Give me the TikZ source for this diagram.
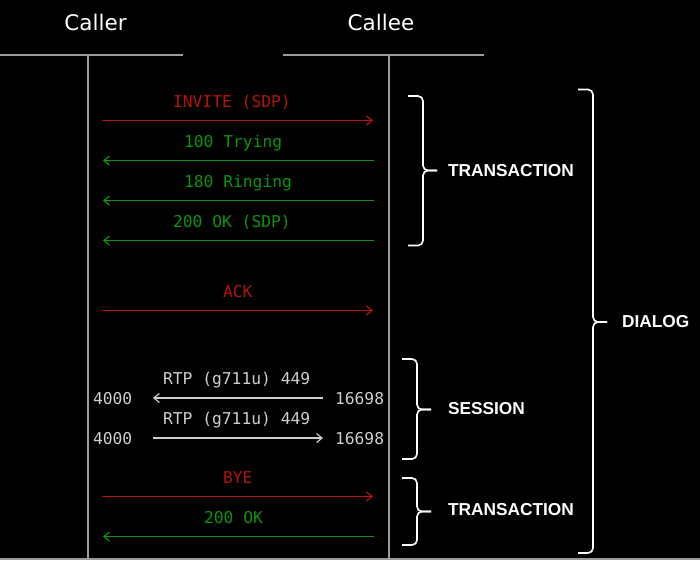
\documentclass[tikz,border=0pt]{standalone}
\usepackage{fontspec}
\setmainfont{DejaVu Sans}
\newfontfamily\monof{DejaVu Sans Mono}
\newfontfamily\boldf{Liberation Sans}
\usetikzlibrary{arrows.meta}
\definecolor{msgred}{RGB}{178,22,8}
\definecolor{msggreen}{RGB}{12,148,12}
\definecolor{lifegray}{RGB}{155,155,155}
\definecolor{rtpgray}{RGB}{205,205,205}
\begin{document}
\begin{tikzpicture}[x=1pt,y=-1pt,
  every node/.style={inner sep=0pt, outer sep=0pt},
  head/.style={font=\fontsize{21.5}{24}\selectfont, text=white, anchor=base},
  mono/.style={font=\monof\fontsize{16.3}{18}\selectfont, anchor=base west},
  req/.style={mono, text=msgred},
  resp/.style={mono, text=msggreen},
  rtp/.style={mono, text=rtpgray},
  grp/.style={font=\boldf\bfseries\fontsize{17.3}{20}\selectfont, text=white, anchor=west},
  life/.style={draw=lifegray, line width=1.3pt},
  tipstyle/.style={-{Straight Barb[length=5.5pt,width=9pt,line width=1.2pt]}},
  reqline/.style={draw=msgred, line width=1.6pt, tipstyle},
  respline/.style={draw=msggreen, line width=1.6pt, tipstyle},
  rtpline/.style={draw=rtpgray, line width=1.2pt, tipstyle},
  bracestyle/.style={draw=white, line width=1.6pt, rounded corners=5pt}
]
\fill[black] (0,0) rectangle (700,560);
\useasboundingbox (0,0) rectangle (700,560);

% headers
\node[head] (caller) at (95.5,30.5) {Caller};
\node[head] (callee) at (381,30.5) {Callee};
\coordinate (tl1) at (0,55);   \coordinate (tl2) at (183,55);
\coordinate (tr1) at (283,55); \coordinate (tr2) at (484,55);
\draw[life] (tl1) -- (tl2);
\draw[life] (tr1) -- (tr2);
\coordinate (lA) at (88,55);  \coordinate (lAb) at (88,559);
\coordinate (lB) at (389,55); \coordinate (lBb) at (389,559);
\draw[life] (lA) -- (lAb);
\draw[life] (lB) -- (lBb);
\coordinate (bot1) at (0,559); \coordinate (bot2) at (700,559);
\draw[life] (bot1) -- (bot2);

% messages
\node[req] (inv) at (173,107) {INVITE (SDP)};
\coordinate (invA) at (102,120.5); \coordinate (invB) at (373,120.5);
\draw[reqline] (invA) -- (invB);

\node[resp] (try) at (184,147) {100 Trying};
\coordinate (tryA) at (374,160.5); \coordinate (tryB) at (103,160.5);
\draw[respline] (tryA) -- (tryB);

\node[resp] (ring) at (184,187) {180 Ringing};
\coordinate (ringA) at (374,200.5); \coordinate (ringB) at (103,200.5);
\draw[respline] (ringA) -- (ringB);

\node[resp] (ok) at (173,227) {200 OK (SDP)};
\coordinate (okA) at (374,240.5); \coordinate (okB) at (103,240.5);
\draw[respline] (okA) -- (okB);

\node[req] (ack) at (223,297) {ACK};
\coordinate (ackA) at (102,310.5); \coordinate (ackB) at (373,310.5);
\draw[reqline] (ackA) -- (ackB);

\node[rtp] (rtp1) at (163,384.5) {RTP (g711u) 449};
\node[rtp] (p1a) at (93,404) {4000};
\node[rtp] (p1b) at (335,404) {16698};
\coordinate (r1A) at (323,398); \coordinate (r1B) at (153,398);
\draw[rtpline] (r1A) -- (r1B);

\node[rtp] (rtp2) at (163,424.5) {RTP (g711u) 449};
\node[rtp] (p2a) at (93,444) {4000};
\node[rtp] (p2b) at (335,444) {16698};
\coordinate (r2A) at (153,438); \coordinate (r2B) at (323,438);
\draw[rtpline] (r2A) -- (r2B);

\node[req] (bye) at (223,483) {BYE};
\coordinate (byeA) at (102,496.5); \coordinate (byeB) at (373,496.5);
\draw[reqline] (byeA) -- (byeB);

\node[resp] (ok2) at (204,523) {200 OK};
\coordinate (ok2A) at (374,536.5); \coordinate (ok2B) at (103,536.5);
\draw[respline] (ok2A) -- (ok2B);

% braces
\coordinate (t1tip) at (437,170.5);
\draw[bracestyle] (408,96) -- (423,96) -- (423,170.5) -- (t1tip);
\draw[bracestyle] (408,245.5) -- (423,245.5) -- (423,170.5) -- (t1tip);
\node[grp] (trans1) at (448,170.5) {TRANSACTION};

\coordinate (dtip) at (607,322);
\draw[bracestyle] (578,89.5) -- (593,89.5) -- (593,322) -- (dtip);
\draw[bracestyle] (578,553) -- (593,553) -- (593,322) -- (dtip);
\node[grp] (dialog) at (622,321.5) {DIALOG};

\coordinate (stip) at (431,409.5);
\draw[bracestyle] (402,359) -- (417,359) -- (417,409.5) -- (stip);
\draw[bracestyle] (402,459) -- (417,459) -- (417,409.5) -- (stip);
\node[grp] (session) at (448,409) {SESSION};

\coordinate (t2tip) at (431,511.5);
\draw[bracestyle] (402,478) -- (417,478) -- (417,511.5) -- (t2tip);
\draw[bracestyle] (402,545) -- (417,545) -- (417,511.5) -- (t2tip);
\node[grp] (trans2) at (448,509.5) {TRANSACTION};
\end{tikzpicture}
\end{document}
